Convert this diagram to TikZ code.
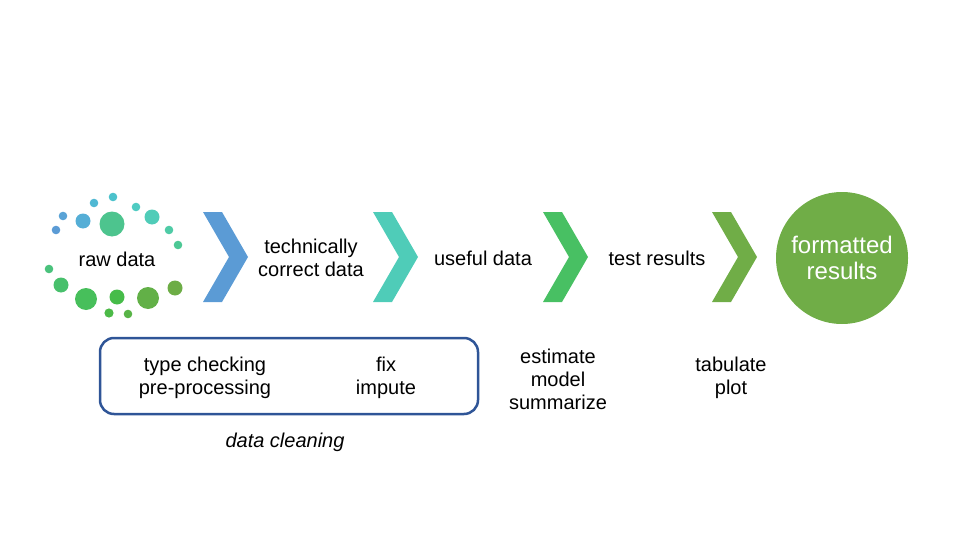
\documentclass[tikz,border=0pt]{standalone}
\usepackage{fontspec}
\setmainfont{Liberation Sans}
\definecolor{cbA}{HTML}{5B9BD5}
\definecolor{cbB}{HTML}{4FCCB8}
\definecolor{cbC}{HTML}{48C063}
\definecolor{cbD}{HTML}{70AD47}
\definecolor{boxc}{HTML}{2F5597}
\begin{document}
\begin{tikzpicture}[x=1pt,y=-1pt,
  lbl/.style={font=\fontsize{20}{23}\selectfont, align=center, text=black, inner sep=0pt},
  chev/.pic={\fill (0,0) -- (19,0) -- (45,45) -- (19,90) -- (0,90) -- (26,45) -- cycle;},
  dot/.style={circle, inner sep=0pt, draw=none}]
\useasboundingbox (0,0) rectangle (960,540);
% dots
\foreach \n/\x/\y/\r/\c in {
 1/56/230/4.3/5B9BD5, 2/63/216/4.3/5AA3D6, 3/83/221/7.5/55AED6, 4/94/203/4.3/50B8D3,
 5/113/197/4.3/4CC2CC, 6/112/224/12.5/4DC48E, 7/136/207/4.3/4FCBC2, 8/152/217/7.5/50CCB8,
 9/169/230/4.3/4FCBA6, 10/178/245/4.3/4DC895, 11/49/269/4.3/4AC27C, 12/61/285/7.5/48C06C,
 13/86/299/11/47BF5B, 14/117/297/7.5/46BC49, 15/109/313/4.6/4CBA47, 16/128/314/4.3/58B447,
 17/148/298/11/62B047, 18/175/288/7.5/6DAD46}{
  \definecolor{tmpc}{HTML}{\c}
  \fill[tmpc] (\x,\y) circle[radius=\r];
}
\node[lbl] (raw) at (117,259) {raw data};
% chevrons
\pic[fill=cbA] at (203,212) {chev};
\pic[fill=cbB] at (373,212) {chev};
\pic[fill=cbC] at (543,212) {chev};
\pic[fill=cbD] at (712,212) {chev};
% labels
\node[lbl] (tcd) at (311,258) {technically\\correct data};
\node[lbl] (useful) at (483,258) {useful data};
\node[lbl] (test) at (657,258) {test results};
\node[circle, fill=cbD, minimum size=132pt, inner sep=0pt, text=white, align=center,
      font=\fontsize{24}{26}\selectfont] (fmt) at (842,258) {formatted\\results};
% cleaning box
\node[draw=boxc, line width=2.5pt, rounded corners=14pt, minimum width=378pt, minimum height=76pt] (cbox) at (289,376) {};
\node[lbl] (tc) at (205,378) {type checking\\pre-processing};
\node[lbl] (fix) at (386,378) {fix\\impute};
\node[lbl, font=\fontsize{20}{23}\selectfont\itshape] (dc) at (285,442) {data cleaning};
\node[lbl] (est) at (558,379) {estimate\\model\\summarize};
\node[lbl] (tab) at (731,378) {tabulate\\plot};
\end{tikzpicture}
\end{document}
